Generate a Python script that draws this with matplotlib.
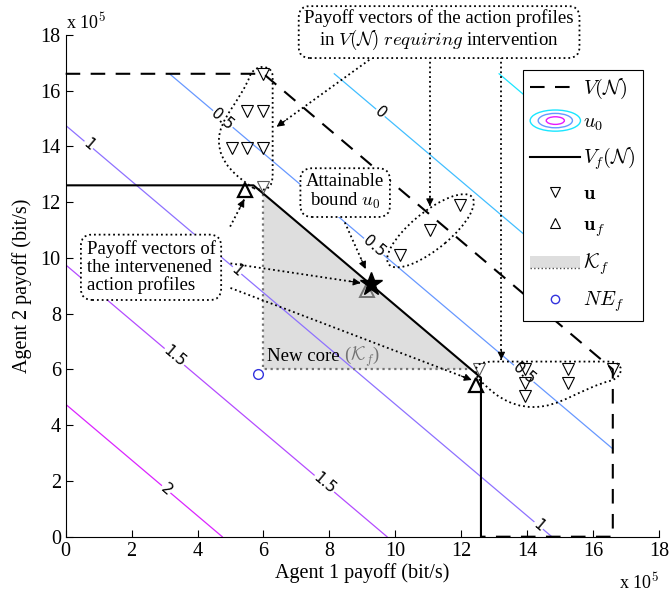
import matplotlib
matplotlib.use('Agg')
import matplotlib.pyplot as plt
import numpy as np
from matplotlib.patches import Ellipse, Rectangle, PathPatch, Polygon
from matplotlib.path import Path
from matplotlib.lines import Line2D
from matplotlib.legend_handler import HandlerBase

plt.rcParams['font.family'] = ['Liberation Serif', 'DejaVu Serif']
plt.rcParams['mathtext.fontset'] = 'cm'

# payoffs in units of 1e5 bit/s
V_x = [0, 6.0, 16.6, 16.6, 12.6]
V_y = [16.6, 16.6, 6.0, 0, 0]
Vf_x = [0, 5.7, 12.6, 12.6]
Vf_y = [12.6, 12.6, 5.7, 0]
core_x = [6.0, 6.0, 12.3]
core_y = [6.0, 12.3, 6.0]

u_x = [6.0, 5.5, 6.0, 5.05, 5.5, 6.0,
       16.6, 15.25, 15.25, 13.95, 13.95, 13.95,
       10.15, 11.05, 11.95]
u_y = [16.6, 15.25, 15.25, 13.95, 13.95, 13.95,
       6.0, 5.5, 6.0, 5.05, 5.5, 6.0,
       10.1, 11.0, 11.9]
u_edge_x = [6.0, 12.55]
u_edge_y = [12.55, 6.0]
uf_x = [5.45, 12.45]
uf_y = [12.45, 5.45]
uf_in_x, uf_in_y = 9.13, 8.85
bound_x, bound_y = 9.25, 9.05
ne_x, ne_y = 5.85, 5.85

# u0 iso-lines: level and x+y intercept, computed on [0, 16.6]^2
levels = [-0.5, 0, 0.5, 1, 1.5, 2]
intercepts = [29.75, 24.75, 19.75, 14.75, 9.75, 4.75]
grid_max = 16.6
lab_text = ['0', '0.5', '0.5', '0.5', '1', '1', '1', '1.5', '1.5', '2']
lab_x = [9.55, 4.75, 9.35, 13.9, 0.7, 5.2, 14.35, 3.3, 7.85, 3.05]
lab_y = [15.2, 14.95, 10.4, 5.85, 14.05, 9.55, 0.4, 6.45, 1.9, 1.7]

fig = plt.figure(figsize=(6.7, 5.99), dpi=100)
ax = fig.add_axes([0.098, 0.104, 0.8855, 0.838])
ax.set_xlim(0, 18)
ax.set_ylim(0, 18)

cmap = plt.get_cmap('cool')
zmin, zmax = -0.845, 2.475
for lev, s in zip(levels, intercepts):
    c = cmap((lev - zmin) / (zmax - zmin))
    x0 = max(0, s - grid_max)
    x1 = min(s, grid_max)
    ax.plot([x0, x1], [s - x0, s - x1], color=c, lw=0.9, zorder=1)

ang = -np.degrees(np.arctan2(0.838 * 5.99, 0.8855 * 6.7))
for t, x, y in zip(lab_text, lab_x, lab_y):
    ax.text(x, y, t, rotation=ang, ha='center', va='center', fontsize=11,
            family='DejaVu Sans', rotation_mode='anchor', zorder=2,
            bbox=dict(boxstyle='square,pad=0.05', fc='white', ec='none'))

# new core
ax.add_patch(Polygon(list(zip(core_x, core_y)), closed=True, fc='0.87',
                     ec='none', zorder=0.5))
ax.plot([core_x[1], core_x[0], core_x[2]], [core_y[1], core_y[0], core_y[2]],
        color='0.45', ls=':', lw=1.6, zorder=3)

ax.plot(V_x, V_y, color='k', ls=(0, (7, 5)), lw=1.5, clip_on=False, zorder=3)
ax.plot(Vf_x, Vf_y, color='k', lw=1.5, zorder=3)

ax.plot(u_x, u_y, ls='none', marker='v', ms=8, mfc='none', mec='k',
        mew=0.8, zorder=4)
ax.plot(u_edge_x, u_edge_y, ls='none', marker='v', ms=8, mfc='none',
        mec='0.35', mew=0.8, zorder=4)
ax.plot(uf_x, uf_y, ls='none', marker='^', ms=10, mfc='none', mec='k',
        mew=1.6, zorder=4)
ax.plot(uf_in_x, uf_in_y, ls='none', marker='^', ms=10, mfc='none',
        mec='0.45', mew=1.4, zorder=4)
ax.plot(bound_x, bound_y, ls='none', marker='*', ms=17, color='k', zorder=5)
ax.plot(ne_x, ne_y, ls='none', marker='o', ms=7, mfc='none', mec='#3333dd',
        mew=1.0, zorder=4)

# dotted outlines around groups of profiles
blob = [(12.5, 5.7), (12.35, 6.1), (12.5, 6.28), (13.0, 6.28), (16.5, 6.28),
        (16.95, 6.28), (16.95, 5.75), (16.55, 5.6), (15.6, 5.3), (15.0, 4.65),
        (14.2, 4.65), (13.4, 4.65), (12.9, 5.2), (12.5, 5.7)]
codes = [Path.MOVETO] + [Path.CURVE4] * 3 + [Path.LINETO] + [Path.CURVE4] * 9
for pts in (blob, [(b, a) for a, b in blob]):
    ax.add_patch(PathPatch(Path(pts, codes), fc='none', ec='k', ls=':',
                           lw=1.3, zorder=4))
ax.add_patch(Ellipse((11.07, 10.97), 3.5, 1.25, angle=45, fc='none', ec='k',
                     ls=':', lw=1.3, zorder=4))


def pointer(x0, y0, x1, y1):
    ax.plot([x0, x1], [y0, y1], ':', color='k', lw=1.3, zorder=6,
            clip_on=False)
    f = 0.35 / np.hypot(x1 - x0, y1 - y0)
    ax.annotate('', xy=(x1, y1), xytext=(x1 - (x1 - x0) * f, y1 - (y1 - y0) * f),
                arrowprops=dict(arrowstyle='-|>', color='k', lw=0.8,
                                mutation_scale=11, shrinkA=0, shrinkB=0),
                zorder=6)


pointer(9.33, 17.2, 6.4, 14.7)
pointer(11.05, 17.2, 11.05, 11.85)
pointer(13.22, 17.2, 13.22, 6.35)
pointer(8.47, 11.27, 9.1, 9.6)
pointer(4.99, 11.12, 5.42, 12.1)
pointer(5.0, 9.8, 8.95, 9.1)
pointer(5.0, 8.92, 12.32, 5.62)

box = dict(boxstyle='round,pad=0.3,rounding_size=0.6', fc='white', ec='k',
           ls=':', lw=1.3)
ax.text(11.33, 18.15, 'Payoff vectors of the action profiles\n'
        r'in $V(\mathcal{N})$ $\mathit{requiring}$ intervention',
        ha='center', va='center', fontsize=13.5, bbox=box, zorder=7,
        linespacing=1.1)
ax.text(8.48, 12.36, 'Attainable\n' r'bound $u_0$', ha='center', va='center',
        fontsize=13.5, bbox=box, zorder=7, linespacing=1.1)
ax.text(2.59, 9.66, 'Payoff vectors of\nthe intervenened\naction profiles',
        ha='center', va='center', multialignment='left', fontsize=13.5,
        bbox=box, zorder=7, linespacing=1.05)
t = ax.text(6.1, 6.3, 'New core ', fontsize=13.5, va='baseline', zorder=7)
fig.canvas.draw()
bb = t.get_window_extent()
x_end = ax.transData.inverted().transform((bb.x1, bb.y0))[0]
ax.text(x_end, 6.3, r'($\mathcal{K}_f$)', fontsize=13.5, va='baseline',
        color='0.45', zorder=7)


class ContourKey:
    pass


class CoreKey:
    pass


class ContourHandler(HandlerBase):
    def create_artists(self, legend, orig_handle, xd, yd, w, h, fontsize,
                       trans):
        cx, cy = xd + w / 2, yd + h / 2
        out = []
        for k, c in zip([1.0, 0.68, 0.36], [cmap(0.1), cmap(0.4), cmap(0.9)]):
            out.append(Ellipse((cx, cy), w * k, h * 1.5 * k, fc='none', ec=c,
                               lw=1.0, transform=trans))
        return out


class CoreHandler(HandlerBase):
    def create_artists(self, legend, orig_handle, xd, yd, w, h, fontsize,
                       trans):
        r = Rectangle((xd, yd), w, h * 0.9, fc='0.87', ec='none',
                      transform=trans)
        ln = Line2D([xd, xd + w], [yd, yd], color='0.3', ls=':', lw=1.0,
                    transform=trans)
        return [r, ln]


handles = [Line2D([], [], color='k', ls=(0, (7, 5)), lw=1.5),
           ContourKey(),
           Line2D([], [], color='k', lw=1.5),
           Line2D([], [], ls='none', marker='v', ms=7, mfc='none', mec='k',
                  mew=0.8),
           Line2D([], [], ls='none', marker='^', ms=7, mfc='none', mec='k',
                  mew=0.8),
           CoreKey(),
           Line2D([], [], ls='none', marker='o', ms=6, mfc='none',
                  mec='#3333dd', mew=1.0)]
labels = [r'$V(\mathcal{N})$', r'$u_0$', r'$V_f(\mathcal{N})$',
          r'$\mathbf{u}$', r'$\mathbf{u}_f$', r'$\mathcal{K}_f$', r'$NE_f$']
leg = ax.legend(handles, labels, loc='upper left',
                bbox_to_anchor=(0.771, 0.930), borderaxespad=0,
                handler_map={ContourKey: ContourHandler(),
                             CoreKey: CoreHandler()},
                fontsize=14.5, handlelength=2.5, handletextpad=0.15,
                labelspacing=0.62, borderpad=0.35, numpoints=1,
                fancybox=False, framealpha=1, edgecolor='k')
leg.get_frame().set_linewidth(0.8)
leg.set_zorder(10)

ax.set_xticks(np.arange(0, 19, 2))
ax.set_yticks(np.arange(0, 19, 2))
ax.tick_params(direction='in', length=5, labelsize=14.5, width=0.8)
ax.spines['top'].set_visible(False)
ax.spines['right'].set_visible(False)
ax.set_xlabel('Agent 1 payoff (bit/s)', fontsize=14.5, labelpad=2)
ax.set_ylabel('Agent 2 payoff (bit/s)', fontsize=14.5, labelpad=6)
ax.text(0.0, 1.005, r'x 10$^5$', transform=ax.transAxes, fontsize=13,
        va='bottom', ha='left')
ax.text(1.0, -0.07, r'x 10$^5$', transform=ax.transAxes, fontsize=13,
        va='top', ha='right')

fig.savefig('out.png', dpi=100)
